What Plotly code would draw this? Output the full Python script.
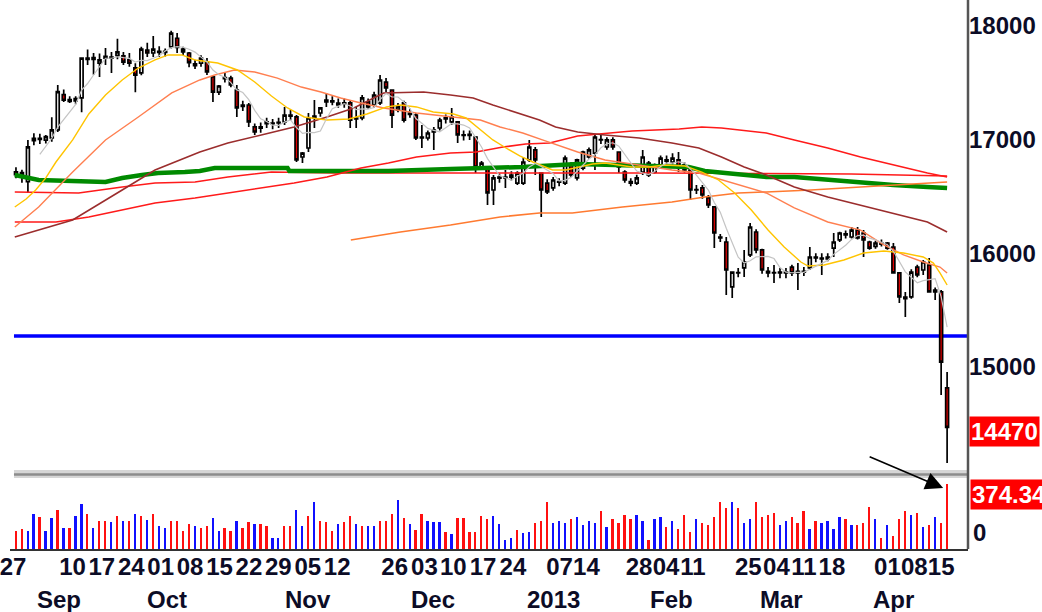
import plotly.graph_objects as go
import pandas as pd

# ---------------- data ----------------
open_ = [16715,16690,16630,16990,17010,16995,17015,17085,17395,17350,
         17340,17365,17715,17705,17672,17715,17725,17740,17735,17700,
         17630,17585,17785,17760,17775,17765,17815,17890,17795,17760,
         17665,17670,17680,17550,17417,17545,17540,17435,17290,17303,
         17110,17100,17140,17145,17150,17154,17215,17198,16846,16925,
         17190,17233,17330,17340,17320,17310,17321,17180,17189,17330,
         17303,17321,17505,17435,17260,17321,17220,17215,17020,17013,
         17066,17101,17180,17154,17154,17040,17035,17022,16760,16749,
         16556,16660,16670,16670,16617,16617,16820,16908,16705,16617,
         16574,16630,16617,16776,16662,16749,16846,16881,17000,16934,
         16996,16890,16714,16630,16617,16714,16793,16714,16758,16810,
         16802,16820,16776,16732,16560,16574,16486,16407,16143,16099,
         15704,15830,15871,15985,16187,16029,15840,15830,15827,15835,
         15879,15827,15840,15871,15960,15958,15950,16046,16117,16170,
         16143,16204,16178,16099,16060,16090,16090,16055,15827,15600,
         15616,15879,15853,15897,15677,15660,14816]
high = [16755,16735,16995,17055,17050,17040,17195,17480,17440,17380,
        17380,17720,17790,17760,17755,17805,17770,17885,17770,17760,
        17670,17815,17850,17910,17820,17800,17955,17935,17815,17770,
        17700,17740,17716,17567,17480,17590,17560,17480,17340,17321,
        17140,17150,17190,17180,17190,17286,17260,17215,16890,17233,
        17347,17280,17409,17380,17360,17360,17347,17286,17390,17360,
        17420,17567,17540,17440,17320,17340,17270,17230,17127,17080,
        17110,17190,17220,17277,17160,17080,17080,17030,16810,16760,
        16688,16700,16732,16720,16720,16846,16996,16934,16710,16650,
        16670,16660,16860,16800,16830,16900,16930,17040,17040,17020,
        17020,16895,16730,16660,16690,16908,16810,16790,16860,16860,
        16880,16890,16800,16749,16600,16600,16512,16410,16170,16143,
        15835,15870,16029,16266,16210,16040,15880,15897,15870,15870,
        15900,15915,15880,16055,16000,16000,16000,16178,16190,16200,
        16230,16230,16204,16110,16110,16120,16100,16090,15835,15660,
        15860,15900,15941,15958,15700,15677,14957]
low = [16660,16620,16530,16950,16960,16965,16980,17065,17330,17320,
       17310,17240,17655,17570,17550,17655,17585,17705,17655,17640,
       17415,17565,17725,17725,17725,17730,17800,17760,17740,17635,
       17620,17640,17567,17330,17390,17500,17460,17198,17250,17110,
       17040,17060,17100,17090,17100,17127,17170,16802,16793,16890,
       17100,17200,17286,17300,17280,17280,17101,17101,17170,17270,
       17280,17303,17417,17101,17240,17150,17190,16996,16925,16990,
       16908,17080,17140,17127,16969,16990,16995,16705,16740,16424,
       16424,16620,16574,16640,16600,16600,16802,16688,16319,16520,
       16550,16590,16600,16670,16640,16730,16830,16732,16960,16910,
       16910,16705,16620,16590,16600,16688,16670,16700,16740,16780,
       16780,16714,16710,16468,16520,16480,16398,16046,16100,15633,
       15607,15790,15792,15967,16000,15820,15790,15739,15780,15780,
       15800,15677,15800,15853,15920,15809,15930,15967,16100,16130,
       16130,16120,15967,16030,16040,16060,16030,15827,15563,15440,
       15600,15790,15809,15660,15590,14754,14157]
close = [16690,16710,16935,17010,17000,17025,17085,17420,17345,17335,
         17360,17715,17705,17720,17700,17730,17715,17770,17680,17670,
         17565,17795,17760,17795,17765,17775,17935,17810,17770,17675,
         17650,17715,17595,17417,17470,17535,17480,17277,17303,17154,
         17066,17110,17155,17140,17145,17215,17205,16820,16881,17189,
         17205,17277,17347,17330,17303,17321,17171,17189,17365,17286,
         17391,17523,17453,17215,17286,17171,17233,17013,17013,17057,
         17083,17171,17190,17198,17040,17035,17045,16758,16793,16530,
         16662,16670,16662,16688,16705,16802,16934,16820,16556,16539,
         16644,16626,16837,16688,16820,16890,16908,17022,16996,16996,
         16934,16758,16644,16617,16662,16846,16688,16776,16837,16820,
         16837,16750,16732,16556,16556,16512,16424,16178,16134,15853,
         15835,15827,15923,16231,16029,15853,15827,15827,15835,15827,
         15827,15840,15835,15967,15967,15950,15967,16099,16178,16161,
         16204,16134,16117,16046,16090,16080,16046,15827,15616,15615,
         15835,15809,15923,15660,15660,15044,14470]
volume = [106,115,106,202,186,106,179,225,119,119,
          188,259,202,119,163,163,154,188,163,163,
          202,188,167,202,131,119,163,163,106,144,
          131,119,131,177,106,119,106,163,119,154,
          144,144,131,61,61,131,131,225,131,188,
          273,163,154,106,144,154,188,144,131,131,
          131,163,163,202,282,179,144,109,202,163,
          154,154,96,86,177,177,96,96,188,173,
          188,144,
          50,64,110,90,100,150,160,270,150,160,
          150,170,184,136,160,150,220,124,170,150,
          196,174,196,160,54,170,184,124,160,114,
          196,100,170,150,136,184,270,234,270,234,
          150,170,270,186,196,210,136,160,186,150,
          220,114,160,150,160,114,186,170,136,136,
          150,244,170,64,136,76,174,220,196,210,
          124,136,184,150,374.34]
vol_side = list("RRBBRBBRBR" "BBRBRRBRBR" "BRBRBBRRRR" "BRRBBRRBRR"
                "BRRBBRRBBR" "BRRRBRRBRB" "BRRRBRBRRB" "BBRBRRRRRR" "BB"
                "BBRBBRRRBB" "BRBBBBRBRR" "RRBBRBBRBR" "RRBRRRRRBR"
                "BBRRRRBBRR" "RBRBBBBRBR" "RRBRBRRRBR" "BRBRR")

# moving-average lines (index, price)
yel_i = [-0.2,1.7,3.3,5.0,6.7,9.5,12.2,15.0,17.8,20.5,23.3,25.5,27.8,30.0,33.8,37.1,40.0,42.8,45.5,48.3,
         52.1,55.8,58.8,62.1,64.4,67.1,69.9,73.3,75.4,77.8,79.9,82.1,84.4,86.6,89.9,92.1,94.4,96.6,98.7,101.1,
         103.2,106.1,108.7,112.1,114.9,117.7,120.4,123.2,126.0,128.7,131.5,132.7,135.4,138.7,142.0,145.4,148.7,152.0,153.7,154.8,156.0]
yel_p = [16407,16477,16556,16662,16802,16996,17224,17391,17523,17628,17699,17743,17743,17699,17672,17611,17505,17382,17277,17198,
         17171,17180,17224,17286,17303,17286,17242,17224,17189,17083,16996,16925,16855,16802,16732,16732,16758,16785,16793,16776,
         16758,16758,16776,16767,16714,16644,16530,16380,16204,16055,15923,15888,15897,15941,16002,16020,16002,15967,15914,15827,15721]
sal_i = [-0.2,3.8,9.5,15.0,20.5,26.1,30.8,33.3,36.6,40.0,43.8,47.8,51.1,54.4,57.8,61.6,67.1,72.8,77.8,81.1,
         84.9,88.2,91.6,94.1,98.7,104.4,109.9,114.4,118.2,125.7,130.4,136.0,141.5,145.4,148.7,152.0,154.8,156.0]
sal_p = [16231,16407,16714,16996,17198,17409,17523,17567,17611,17593,17540,17461,17417,17365,17321,17277,17233,17198,17171,17110,
         17057,16996,16934,16890,16820,16776,16732,16705,16644,16530,16398,16275,16204,16073,15985,15923,15879,15827]
mar_i = [-0.2,9.5,17.8,23.3,30.8,35.5,41.1,46.6,52.1,56.6,61.6,68.3,72.8,76.6,79.9,83.7,87.7,90.4,94.1,98.7,
         104.4,109.9,114.4,118.2,122.0,125.7,130.4,136.0,141.5,147.0,152.7,156.0]
mar_p = [16143,16293,16556,16732,16890,16969,17040,17110,17198,17277,17409,17417,17391,17365,17303,17242,17171,17110,17066,17040,
         17013,16969,16925,16846,16758,16688,16582,16495,16424,16354,16275,16187]
red2_i = [-0.2,6.7,12.2,17.8,23.3,30.0,35.5,41.1,46.6,52.1,57.8,62.4,67.1,72.8,77.1,81.6,85.4,89.4,94.1,97.7,
          103.2,111.1,114.9,118.2,125.7,130.4,136.0,141.5,147.0,152.7,156.0]
red2_p = [16275,16275,16319,16380,16442,16486,16530,16574,16618,16670,16749,16793,16846,16881,16890,16934,16960,16969,17031,17048,
          17075,17092,17110,17101,17057,16996,16925,16846,16776,16705,16670]
red1_i = [-0.2,10.5,17.8,23.3,30.0,35.5,42.8,53.3,73.3,106.6,139.9,156.0]
red1_p = [16539,16530,16582,16618,16626,16670,16714,16705,16705,16705,16697,16679]
grn_i = [-0.2,3.8,15.0,17.8,21.1,23.8,28.3,30.8,33.3,45.5,45.8,62.4,72.8,84.9,94.1,112.7,115.4,119.4,125.7,130.4,
         136.0,141.5,147.0,152.7,156.0]
grn_p = [16688,16644,16626,16662,16688,16705,16714,16723,16749,16749,16723,16723,16741,16758,16785,16758,16723,16705,16670,16670,
         16644,16618,16600,16582,16574]
org_i = [56.1,64.4,72.8,81.1,87.7,93.2,101.6,109.9,115.4,121.0,125.7,133.2,141.5,147.0,153.7,156.0]
org_p = [16117,16187,16248,16319,16354,16354,16407,16451,16495,16530,16539,16556,16582,16600,16618,16626]

support_level = 15273
last_close_label = "14470"
last_volume_label = "374.34"

price_ticks = [15000, 16000, 17000, 18000]
day_pos = [-0.5,9.49,14.39,19.31,24.24,29.17,34.1,39.03,43.96,48.88,53.81,63.44,68.43,73.26,78.25,83.25,
           91.08,95.57,104.4,108.9,113.4,122.7,127.4,132.0,136.7,146.0,150.5,155.0]
day_text = ["27","10","17","24","01","08","15","22","29","05","12","26","03","10","17","24",
            "07","14","28","04","11","25","04","11","18","01","08","15"]
month_text = ["Sep","Oct","Nov","Dec","2013","Feb","Mar","Apr"]
month_pos = [7.16,25.3,48.95,69.9,90.1,109.9,128.2,147.0]

assert len(open_) == len(high) == len(low) == len(close) == len(volume) == len(vol_side)

# ---------------- figure ----------------
W, H = 1042, 612
ML, MR, MT, MB = 4, 74, 0, 63
PW, PH = W - ML - MR, H - MT - MB


def fx(px):
    return (px - ML) / PW


def fy(py):
    return (MT + PH - py) / PH


FONT = "Liberation Sans, Arial, sans-serif"
TXT = "#0c0c26"
idx = list(range(len(close)))
ma5 = pd.Series(close, dtype=float).rolling(5).mean()

fig = go.Figure()


def add_line(xs, ys, color, width):
    fig.add_trace(go.Scatter(x=xs, y=ys, mode="lines", line=dict(color=color, width=width),
                             hoverinfo="skip", showlegend=False, yaxis="y"))


add_line(red1_i, red1_p, "#ff1a1a", 1.6)
add_line(grn_i, grn_p, "#008a00", 4.5)
add_line(red2_i, red2_p, "#ff1a1a", 1.6)
add_line(org_i, org_p, "#ff7a30", 1.6)
add_line(mar_i, mar_p, "#9b2d2d", 1.6)
add_line(sal_i, sal_p, "#ff7f50", 1.4)
add_line(yel_i, yel_p, "#ffc400", 1.4)
add_line(idx, ma5, "#c4c4c4", 1.2)

fig.add_trace(go.Candlestick(
    x=idx, open=open_, high=high, low=low, close=close,
    increasing=dict(line=dict(color="#000000", width=1.7), fillcolor="#ffffff"),
    decreasing=dict(line=dict(color="#000000", width=1.7), fillcolor="#e00000"),
    whiskerwidth=0, showlegend=False, hoverinfo="skip", yaxis="y"))

vcols = ["#ff1010" if s == "R" else "#1010ff" for s in vol_side]
fig.add_trace(go.Bar(x=idx, y=volume, width=0.3, marker=dict(color=vcols, line=dict(width=0)),
                     showlegend=False, hoverinfo="skip", yaxis="y2"))

tickfont = dict(family=FONT, size=24, color=TXT, weight="bold")

shapes = [
    dict(type="line", xref="paper", x0=fx(8), x1=1, yref="y", y0=support_level, y1=support_level,
         line=dict(color="#0000ff", width=3.5), layer="below"),
    dict(type="rect", xref="paper", x0=fx(8), x1=1, yref="paper", y0=fy(478), y1=fy(470),
         fillcolor="#d6d6d6", line=dict(width=0), layer="above"),
    dict(type="line", xref="paper", x0=fx(8), x1=1, yref="paper", y0=fy(474.5), y1=fy(474.5),
         line=dict(color="#8c8c8c", width=2.5), layer="above"),
    dict(type="line", xref="paper", x0=1, x1=1, yref="paper", y0=0, y1=1,
         line=dict(color="#555555", width=2.5), layer="above"),
]

annotations = []
for t, p in zip(month_text, month_pos):
    annotations.append(dict(text=t, x=p, xref="x", y=fy(599), yref="paper", showarrow=False,
                            xanchor="center", yanchor="middle", font=tickfont))
annotations.append(dict(text=last_close_label, x=1, xref="paper", xshift=1, y=fy(431), yref="paper",
                        showarrow=False, xanchor="left", yanchor="middle", bgcolor="#ff0000", borderpad=1,
                        font=dict(family=FONT, size=24, color="#ffffff", weight="bold")))
annotations.append(dict(text=last_volume_label, x=1, xref="paper", xshift=2, y=fy(494), yref="paper",
                        showarrow=False, xanchor="left", yanchor="middle", bgcolor="#ff0000", borderpad=1,
                        font=dict(family=FONT, size=24, color="#ffffff", weight="bold")))
annotations.append(dict(text="0", x=1, xref="paper", xshift=3, y=fy(532), yref="paper",
                        showarrow=False, xanchor="left", yanchor="middle", font=tickfont))
annotations.append(dict(text="", x=fx(943), xref="paper", y=fy(488), yref="paper",
                        showarrow=True, ax=-75, ay=-32, arrowhead=2, arrowsize=2.2, arrowwidth=1.6,
                        arrowcolor="#000000", standoff=0))

fig.update_layout(
    width=W, height=H,
    margin=dict(l=ML, r=MR, t=MT, b=MB, pad=0),
    paper_bgcolor="#ffffff", plot_bgcolor="#ffffff",
    showlegend=False, hovermode=False, bargap=0,
    xaxis=dict(domain=[0, 1], range=[-1.0, 159.5], anchor="y2",
               showgrid=False, zeroline=False, showline=True, linecolor="#333333", linewidth=2,
               ticks="", tickvals=day_pos, ticktext=day_text, tickfont=tickfont, tickangle=0,
               ticklabeloverflow="allow", ticklabelstandoff=-5,
               rangeslider=dict(visible=False), fixedrange=True),
    yaxis=dict(domain=[fy(470), 1], range=[14095, 18226], anchor="x", side="right",
               showgrid=False, zeroline=False, showline=False, ticks="",
               tickvals=price_ticks, ticktext=[str(v) for v in price_ticks], tickfont=tickfont,
               ticklabeloverflow="allow", fixedrange=True),
    yaxis2=dict(domain=[0, fy(479)], range=[0, 403], anchor="x", side="right",
                showgrid=False, zeroline=False, showline=False, showticklabels=False, ticks="",
                fixedrange=True),
    shapes=shapes, annotations=annotations,
)

fig.write_html("out.html", config={"displayModeBar": False},
               post_script="document.body.style.margin='0';document.body.style.overflow='hidden';")
